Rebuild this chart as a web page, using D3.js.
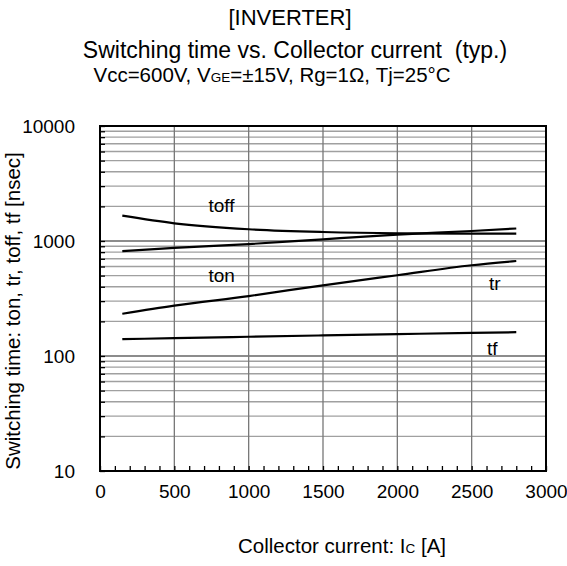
<!DOCTYPE html>
<html><head><meta charset="utf-8">
<script src="https://cdn.jsdelivr.net/npm/d3@7"></script>
<style>
html,body{margin:0;padding:0;background:#fff;}
text{font-family:"Liberation Sans",Arial,sans-serif;fill:#000;}
</style></head>
<body><svg id="c" width="567" height="566"></svg>
<script>
// ---- data ----
const currents = [150, 500, 1000, 1500, 2000, 2500, 2800];
const toff = [1660, 1425, 1265, 1197, 1167, 1160, 1160];
const ton  = [818, 870, 940, 1035, 1135, 1222, 1285];
const tr   = [233, 274, 332, 412, 504, 615, 670];
const tf   = [140, 143, 147, 151, 155, 159, 161];
const seriesNames = ["toff", "ton", "tr", "tf"];
const labelPos = [[730, 1787], [730, 440], [2616, 375], [2603, 102]];
const xTicks = [0, 500, 1000, 1500, 2000, 2500, 3000];
const yTicks = [10, 100, 1000, 10000];

const svg = d3.select("#c");
const L = 100, R = 546, T = 126, B = 471;
const x = d3.scaleLinear().domain([0, 3000]).range([L, R]);
const y = d3.scaleLog().domain([10, 10000]).range([B, T]);

// horizontal grid (minor log)
const minorY = [];
for (let d = 10; d < 10000; d *= 10) for (let k = 2; k <= 9; k++) minorY.push(d * k);
const grid = svg.append("g");
grid.selectAll("line.h").data(minorY.concat([100, 1000])).enter().append("line")
  .attr("x1", L).attr("x2", R).attr("y1", d => y(d)).attr("y2", d => y(d))
  .attr("stroke", d => (d === 100 || d === 1000) ? "#666" : "#a0a0a0").attr("stroke-width", 1.4);
grid.selectAll("line.v").data(xTicks.slice(1, -1)).enter().append("line")
  .attr("y1", T).attr("y2", B).attr("x1", d => x(d)).attr("x2", d => x(d))
  .attr("stroke", "#777").attr("stroke-width", 1.3);

// axes with inward ticks
const xMinor = d3.range(0, 3001, 100);
svg.append("g").attr("transform", `translate(0,${B})`)
  .call(d3.axisBottom(x).tickValues(xMinor).tickSize(-5).tickFormat(""))
  .call(g => g.select(".domain").remove())
  .call(g => g.selectAll("line").attr("stroke", "#000").attr("stroke-width", 1.3));
svg.append("g").attr("transform", `translate(0,${B})`)
  .call(d3.axisBottom(x).tickValues(xTicks).tickSize(0).tickPadding(14).tickFormat(d3.format("d")))
  .call(g => g.select(".domain").remove())
  .call(g => g.selectAll("text").attr("font-size", 19).attr("font-family", "Liberation Sans, Arial, sans-serif").attr("fill", "#000"));

svg.append("g").attr("transform", `translate(${L},0)`)
  .call(d3.axisLeft(y).tickValues(minorY.concat(yTicks)).tickSize(-5).tickFormat(""))
  .call(g => g.select(".domain").remove())
  .call(g => g.selectAll("line").attr("stroke", "#000").attr("stroke-width", 1.3));
svg.append("g").attr("transform", `translate(${L},0)`)
  .call(d3.axisLeft(y).tickValues(yTicks).tickSize(0).tickPadding(25).tickFormat(d3.format("d")))
  .call(g => g.select(".domain").remove())
  .call(g => g.selectAll("text").attr("font-size", 19).attr("font-family", "Liberation Sans, Arial, sans-serif").attr("fill", "#000"));

// frame
svg.append("rect").attr("x", L).attr("y", T).attr("width", R - L).attr("height", B - T)
  .attr("fill", "none").attr("stroke", "#000").attr("stroke-width", 2);

// curves
const series = [toff, ton, tr, tf];
const line = d3.line().x((d, i) => x(currents[i])).y(d => y(d)).curve(d3.curveMonotoneX);
svg.append("g").selectAll("path").data(series).enter().append("path")
  .attr("d", line).attr("fill", "none").attr("stroke", "#000").attr("stroke-width", 2.2);

// series labels
svg.append("g").selectAll("text").data(seriesNames).enter().append("text")
  .attr("x", (d, i) => x(labelPos[i][0])).attr("y", (d, i) => y(labelPos[i][1]))
  .attr("font-size", 19).text(d => d);

// titles
svg.append("text").attr("x", 290).attr("y", 25).attr("text-anchor", "middle").attr("font-size", 22).text("[INVERTER]");
svg.append("text").attr("x", 295).attr("y", 58).attr("text-anchor", "middle").attr("font-size", 23).text("Switching time vs. Collector current\u00a0\u00a0(typ.)");
const sub = svg.append("text").attr("x", 272).attr("y", 82).attr("text-anchor", "middle").attr("font-size", 20.5);
sub.append("tspan").text("Vcc=600V, V");
sub.append("tspan").attr("font-size", 13.5).text("GE");
sub.append("tspan").text("=\u00b115V, Rg=1\u03a9, Tj=25\u00b0C");

// axis titles
const xl = svg.append("text").attr("x", 342).attr("y", 553).attr("text-anchor", "middle").attr("font-size", 20.5);
xl.append("tspan").text("Collector current: I");
xl.append("tspan").attr("font-size", 13.5).text("C");
xl.append("tspan").text(" [A]");
svg.append("text").attr("transform", "translate(20,311) rotate(-90)").attr("text-anchor", "middle")
  .attr("font-size", 20.5).text("Switching time: ton, tr, toff, tf [nsec]");
</script></body></html>
